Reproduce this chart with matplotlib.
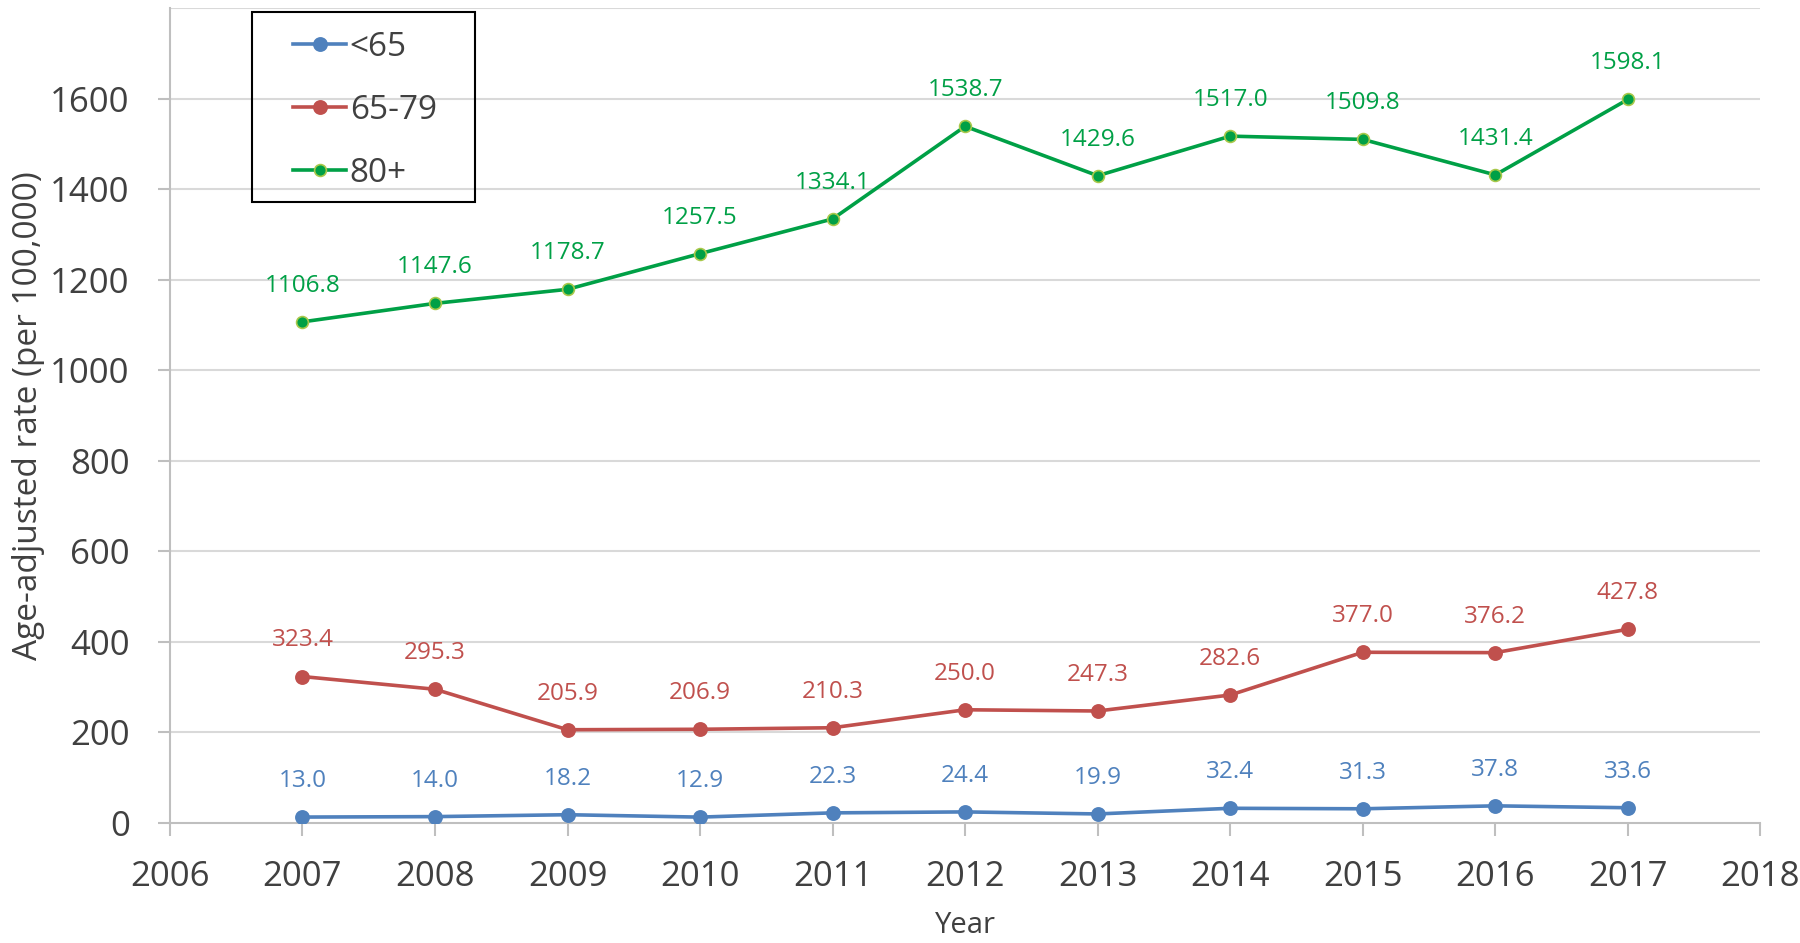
import matplotlib.pyplot as plt
from matplotlib.patches import Rectangle

# --------- DATA ---------
YEARS = [2007, 2008, 2009, 2010, 2011, 2012, 2013, 2014, 2015, 2016, 2017]
UNDER_65 = [13.0, 14.0, 18.2, 12.9, 22.3, 24.4, 19.9, 32.4, 31.3, 37.8, 33.6]
AGE_65_79 = [323.4, 295.3, 205.9, 206.9, 210.3, 250.0, 247.3, 282.6, 377.0, 376.2, 427.8]
AGE_80_PLUS = [1106.8, 1147.6, 1178.7, 1257.5, 1334.1, 1538.7, 1429.6, 1517.0, 1509.8, 1431.4, 1598.1]
Y_TICKS = [0, 200, 400, 600, 800, 1000, 1200, 1400, 1600]
X_TICKS = list(range(2006, 2019))
# ------------------------

BLUE = "#4F81BD"
RED = "#C0504D"
GREEN = "#00A046"
GRID = "#D9D9D9"
AXIS = "#BFBFBF"
TXT = "#404040"

plt.rcParams["font.family"] = ["Open Sans", "DejaVu Sans"]

fig = plt.figure(figsize=(18, 9.43), dpi=100)
ax = fig.add_axes([0.0944, 0.1273, 0.8836, 0.8642])

series = [
    ("<65", UNDER_65, BLUE, BLUE, 9.5),
    ("65-79", AGE_65_79, RED, RED, 9.5),
    ("80+", AGE_80_PLUS, GREEN, "#A8C84A", 8.5),
]

for name, vals, col, edge, ms in series:
    ax.plot(YEARS, vals, color=col, lw=2.6, marker="o", ms=ms,
            mfc=col, mec=edge, mew=1.2, label=name, zorder=3)
    for x, v in zip(YEARS, vals):
        ax.annotate(f"{v:.1f}", (x, v), xytext=(0, 26), textcoords="offset points",
                    ha="center", va="center", fontsize=17.5, color=col)

ax.set_xlim(2006, 2018)
ax.set_ylim(0, 1800)
ax.set_xticks(X_TICKS)
ax.set_yticks(Y_TICKS)
for y in Y_TICKS[1:] + [1800]:
    ax.axhline(y, color=GRID, lw=1.5, zorder=1)

for side in ("top", "right"):
    ax.spines[side].set_visible(False)
for side in ("left", "bottom"):
    ax.spines[side].set_color(AXIS)
    ax.spines[side].set_linewidth(1.5)

ax.tick_params(axis="both", colors=AXIS, labelcolor=TXT, labelsize=25,
               length=9, width=1.5)
ax.tick_params(axis="y", pad=20)
ax.tick_params(axis="x", pad=18)

ax.set_xlabel("Year", fontsize=21, color=TXT, labelpad=12)
ax.set_ylabel("Age-adjusted rate (per 100,000)", fontsize=24, color=TXT, labelpad=4)

# legend: entries without frame, box drawn separately
leg = fig.legend(*ax.get_legend_handles_labels(), loc="upper left",
                 bbox_to_anchor=(293 / 1800, 1 - 31 / 943), fontsize=24,
                 frameon=False, handlelength=1.6, handletextpad=0.1,
                 labelspacing=0.9, borderpad=0, borderaxespad=0, labelcolor=TXT)
fig.patches.append(Rectangle((252 / 1800, 1 - 202 / 943), 223 / 1800, 190 / 943,
                             transform=fig.transFigure, fill=False,
                             edgecolor="black", lw=1.5, zorder=5))

fig.savefig("out.png", dpi=100)
